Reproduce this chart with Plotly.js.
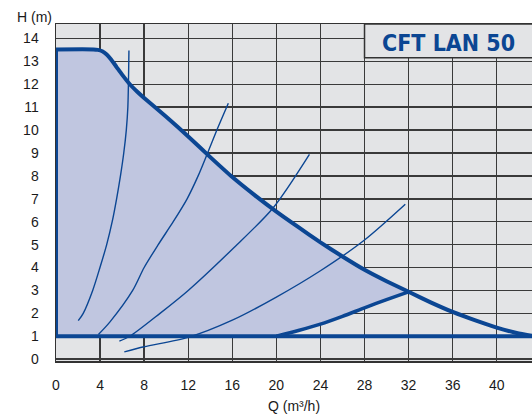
<!DOCTYPE html>
<html>
<head>
<meta charset="utf-8">
<script src="https://cdn.plot.ly/plotly-3.0.1.min.js"></script>
<style>html,body{margin:0;padding:0;background:#fff;}#chart{width:532px;height:414px;}</style>
</head>
<body>
<div id="chart"></div>
<script>
// Pump performance curve (max speed)
const pumpQ = [0, 3.4, 3.8, 4.2, 4.6, 5.0, 5.5, 6.0, 6.7, 7.4, 8, 10, 12, 14, 16, 18, 20, 22, 24, 26, 28, 30, 32, 34, 36, 38, 40, 42, 43.2];
const pumpH = [13.52, 13.52, 13.5, 13.44, 13.3, 13.08, 12.75, 12.42, 12.0, 11.66, 11.4, 10.58, 9.72, 8.82, 7.95, 7.17, 6.44, 5.76, 5.1, 4.48, 3.9, 3.4, 2.94, 2.48, 2.06, 1.7, 1.38, 1.12, 1.02];
// Lower-right boundary of working area
const lowQ = [20, 22, 24, 26, 28, 30, 32];
const lowH = [1.0, 1.25, 1.53, 1.87, 2.24, 2.6, 2.94];
// Minimum head line
const minQ = [0, 43.2];
const minH = [1.0, 1.0];
// System curves
const s1Q = [2.02, 2.47, 3.33, 3.99, 4.6, 5.1, 5.5, 5.85, 6.15, 6.38, 6.52, 6.62];
const s1H = [1.68, 2.0, 3.0, 4.0, 5.0, 6.0, 7.0, 8.0, 9.0, 10.0, 11.0, 13.47];
const s2Q = [3.85, 4.9, 6.96, 8.0, 9.28, 10.64, 11.9, 12.9, 13.76, 14.6, 15.64];
const s2H = [1.08, 1.63, 3.0, 4.0, 5.0, 6.0, 7.0, 8.0, 9.0, 10.0, 11.17];
const s3Q = [5.75, 6.7, 9.44, 12, 16, 19.7, 23];
const s3H = [0.79, 1.0, 2.0, 3.0, 4.8, 6.6, 8.94];
const s4Q = [6.2, 8, 12, 16, 20, 24, 28, 31.7];
const s4H = [0.32, 0.54, 0.95, 1.7, 2.71, 3.86, 5.2, 6.76];
const xTicks = [0, 4, 8, 12, 16, 20, 24, 28, 32, 36, 40];
const yTicks = [0, 1, 2, 3, 4, 5, 6, 7, 8, 9, 10, 11, 12, 13, 14];
const chartTitle = 'CFT LAN 50';

const blue = '#0b4693';
const fillBlue = '#c0c6e0';
const bg = '#e3e4e6';

// working-area polygon: left edge, pump curve to 32, lower curve back, min line back
const iEnd = pumpQ.indexOf(32);
const areaQ = [0].concat(pumpQ.slice(0, iEnd + 1), lowQ.slice().reverse(), [0]);
const areaH = [1.0].concat(pumpH.slice(0, iEnd + 1), lowH.slice().reverse(), [1.0]);

const thin = {color: blue, width: 1.4, shape: 'spline', smoothing: 0.8};
const traces = [
  {x: areaQ, y: areaH, type: 'scatter', mode: 'lines', fill: 'toself', fillcolor: fillBlue, line: {width: 0}, hoverinfo: 'skip'},
  {x: s1Q, y: s1H, type: 'scatter', mode: 'lines', line: thin},
  {x: s2Q, y: s2H, type: 'scatter', mode: 'lines', line: thin},
  {x: s3Q, y: s3H, type: 'scatter', mode: 'lines', line: thin},
  {x: s4Q, y: s4H, type: 'scatter', mode: 'lines', line: thin},
  {x: [0, 0], y: [minH[0], pumpH[0]], type: 'scatter', mode: 'lines', line: {color: blue, width: 4}},
  {x: minQ, y: minH, type: 'scatter', mode: 'lines', line: {color: blue, width: 4}},
  {x: lowQ, y: lowH, type: 'scatter', mode: 'lines', line: {color: blue, width: 3.5, shape: 'spline', smoothing: 0.8}},
  {x: pumpQ, y: pumpH, type: 'scatter', mode: 'lines', line: {color: blue, width: 4, shape: 'spline', smoothing: 0.5}}
];

const axisFont = {family: 'Liberation Sans, Arial, sans-serif', size: 14, color: '#1a1a1a'};
const layout = {
  width: 532, height: 414,
  margin: {l: 56, r: 0, t: 24, b: 53},
  paper_bgcolor: '#ffffff',
  plot_bgcolor: bg,
  showlegend: false,
  xaxis: {
    range: [0, 43.2], tickvals: xTicks, ticktext: xTicks.map(String),
    showgrid: true, gridcolor: '#3a3a3a', gridwidth: 1.4, zeroline: false,
    showline: true, linecolor: '#333', linewidth: 1.5, mirror: true,
    ticks: '', ticklabelstandoff: 11, tickfont: axisFont,
    title: {text: 'Q (m³/h)', font: axisFont, standoff: 9}
  },
  yaxis: {
    range: [-0.08, 14.63], tickvals: yTicks, ticktext: yTicks.map(String),
    showgrid: true, gridcolor: '#3a3a3a', gridwidth: 1.4, zeroline: false,
    showline: true, linecolor: '#333', linewidth: 1.5,
    ticks: '', ticklabelstandoff: 13, tickfont: axisFont
  },
  shapes: [
    {type: 'rect', xref: 'x', yref: 'paper', x0: 28, x1: 44, y0: 0.9, y1: 1.0,
     fillcolor: bg, line: {color: '#333', width: 1.5}, layer: 'above'}
  ],
  annotations: [
    {text: chartTitle, xref: 'x', yref: 'y', x: 35.6, y: 13.78, showarrow: false,
     font: {family: 'DejaVu Sans Condensed, DejaVu Sans, sans-serif', size: 23, color: blue, weight: 'bold'}},
    {text: 'H (m)', xref: 'paper', yref: 'paper', x: -0.046, y: 1.0, xanchor: 'center', yanchor: 'bottom', yshift: -3,
     showarrow: false, font: axisFont}
  ]
};

Plotly.newPlot('chart', traces, layout, {staticPlot: true});
</script>
</body>
</html>
